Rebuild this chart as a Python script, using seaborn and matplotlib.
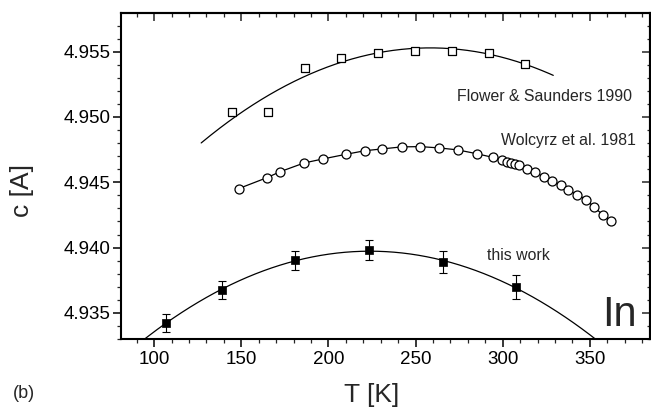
import numpy as np
import pandas as pd
import matplotlib
matplotlib.use("Agg")
import matplotlib.pyplot as plt
import seaborn as sns
from matplotlib.ticker import MultipleLocator, FormatStrFormatter

# ---------------- data ----------------
this_T = [107.1, 138.7, 181.1, 223.4, 265.6, 307.5]
this_c = [4.93424, 4.93678, 4.93902, 4.93979, 4.93890, 4.93696]
this_err = [0.00069, 0.00069, 0.00074, 0.00077, 0.00087, 0.00093]

flower_T = [144.4, 165.4, 186.5, 207.5, 228.7, 249.7, 271.0, 292.0, 313.0]
flower_c = [4.95035, 4.95035, 4.95373, 4.95454, 4.95492, 4.95508, 4.95508,
            4.95492, 4.95403]

wol_T = [148.6, 164.5, 172.5, 186.1, 197.0, 210.0, 221.1, 230.6, 242.1, 252.8,
         263.5, 274.1, 285.0, 294.2, 299.8, 302.4, 304.7, 307.0, 309.3, 314.0,
         318.8, 323.6, 328.4, 333.2, 337.5, 342.7, 347.7, 352.4, 357.3, 362.2]
wol_c = [4.94452, 4.94534, 4.94582, 4.94648, 4.94679, 4.94714, 4.94742,
         4.94755, 4.94771, 4.94773, 4.94763, 4.94748, 4.94719, 4.94691,
         4.94667, 4.94658, 4.94648, 4.94639, 4.94629, 4.94602, 4.94576,
         4.94541, 4.94513, 4.94477, 4.94439, 4.94406, 4.94368, 4.94309,
         4.94253, 4.94202]

this_fit_range = (85, 365)
flower_fit_range = (127, 329)

label_flower = "Flower & Saunders 1990"
label_wol = "Wolcyrz et al. 1981"
label_this = "this work"
label_el = "In"
xlabel = "T [K]"
ylabel = "c [A]"
panel = "(b)"

x_ticks = [100, 150, 200, 250, 300, 350]
y_ticks = [4.935, 4.940, 4.945, 4.950, 4.955]

# ---------------- style ----------------
sns.set_style("ticks")
plt.rcParams['font.family'] = ['Liberation Sans', 'DejaVu Sans']

fig = plt.figure(figsize=(6.51, 4.08), dpi=100)
W, H = 651, 408
ax = fig.add_axes([121 / W, 1 - 339 / H, (650 - 121) / W, (339 - 13) / H])

df_this = pd.DataFrame({"T": this_T, "c": this_c, "err": this_err})
df_fl = pd.DataFrame({"T": flower_T, "c": flower_c})
df_wol = pd.DataFrame({"T": wol_T, "c": wol_c})

# fitted parabolas
p_this = np.polyfit(df_this["T"], df_this["c"], 2)
g_this = np.linspace(*this_fit_range, 300)
sns.lineplot(x=g_this, y=np.polyval(p_this, g_this), ax=ax, color="black",
             lw=0.9, zorder=2)

p_fl = np.polyfit(df_fl["T"], df_fl["c"], 2)
g_fl = np.linspace(*flower_fit_range, 300)
sns.lineplot(x=g_fl, y=np.polyval(p_fl, g_fl), ax=ax, color="black",
             lw=0.9, zorder=2)

# Wolcyrz: connected open circles
sns.lineplot(data=df_wol, x="T", y="c", ax=ax, color="black", lw=0.9,
             sort=False, zorder=2)
sns.scatterplot(data=df_wol, x="T", y="c", ax=ax, marker="o", s=42,
                facecolor="white", edgecolor="black", linewidth=0.9, zorder=3)

# Flower: open squares
sns.scatterplot(data=df_fl, x="T", y="c", ax=ax, marker="s", s=36,
                facecolor="white", edgecolor="black", linewidth=0.9, zorder=3)

# this work: filled squares with error bars
ax.errorbar(df_this["T"], df_this["c"], yerr=df_this["err"], fmt="none",
            ecolor="black", elinewidth=0.8, capsize=2.6, capthick=0.8, zorder=3)
sns.scatterplot(data=df_this, x="T", y="c", ax=ax, marker="s", s=36,
                color="black", edgecolor="black", linewidth=0.5, zorder=4)

# axes limits & ticks
ax.set_xlim(81, 384.5)
ax.set_ylim(4.9330, 4.95796)
ax.set_xticks(x_ticks)
ax.set_yticks(y_ticks)
ax.xaxis.set_minor_locator(MultipleLocator(10))
ax.yaxis.set_minor_locator(MultipleLocator(0.001))
ax.yaxis.set_major_formatter(FormatStrFormatter("%.3f"))
ax.tick_params(which="major", direction="out", length=5.5, width=1.1,
               labelsize=13.5, colors="black", pad=2)
ax.tick_params(axis="x", which="major", pad=3.5)
ax.tick_params(which="minor", direction="out", length=3, width=0.9)

for s in ax.spines.values():
    s.set_linewidth(1.5)
    s.set_color("black")
    s.set_visible(True)

secx = ax.secondary_xaxis("top")
secx.set_xticks(x_ticks)
secx.xaxis.set_minor_locator(MultipleLocator(10))
secx.tick_params(which="major", direction="in", length=5.5, width=1.1,
                 labeltop=False)
secx.tick_params(which="minor", direction="in", length=3, width=0.9)
secx.spines["top"].set_linewidth(1.5)

secy = ax.secondary_yaxis("right")
secy.set_yticks(y_ticks)
secy.yaxis.set_minor_locator(MultipleLocator(0.001))
secy.tick_params(which="major", direction="in", length=5.5, width=1.1,
                 labelright=False)
secy.tick_params(which="minor", direction="in", length=2.5, width=0.9)
secy.spines["right"].set_linewidth(1.5)

ax.set_xlabel(xlabel, fontsize=19)
ax.set_ylabel(ylabel, fontsize=19)
ax.xaxis.set_label_coords(0.474, -0.135)
ax.yaxis.set_label_coords(-0.165, 0.457)

# annotations
ax.text(273.7, 4.95153, label_flower, fontsize=11.4, ha="left", va="center")
ax.text(299.3, 4.94817, label_wol, fontsize=11.4, ha="left", va="center")
ax.text(290.7, 4.93938, label_this, fontsize=11.4, ha="left", va="center")
ax.text(357.0, 4.93487, label_el, fontsize=30, ha="left", va="center")
fig.text(13 / W, 1 - 393 / H, panel, fontsize=13, ha="left", va="center")

fig.savefig("out.png", dpi=100)
